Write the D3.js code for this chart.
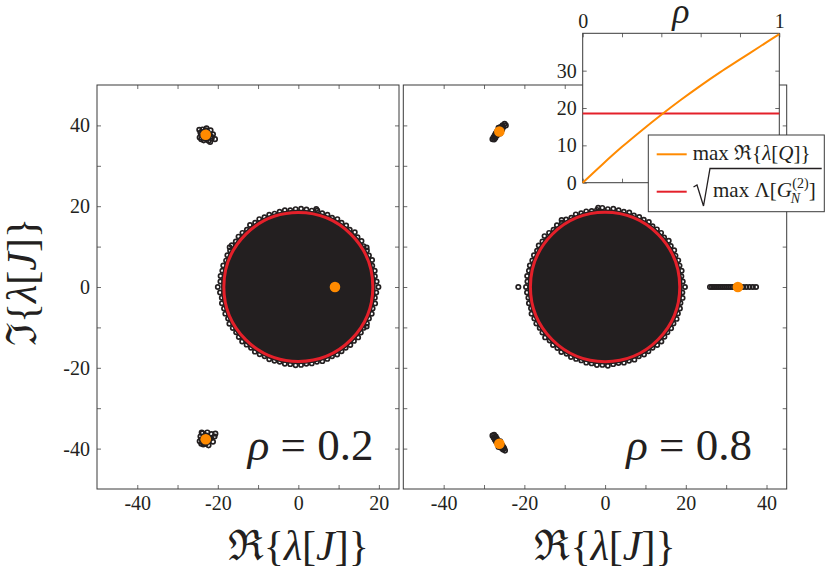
<!DOCTYPE html>
<html><head><meta charset="utf-8">
<script src="https://cdn.jsdelivr.net/npm/d3@7"></script>
<style>
body{margin:0;background:#fff;}
svg text{font-family:'Liberation Serif','DejaVu Serif',serif;fill:#231f20;}
</style></head>
<body><svg id="c" width="830" height="572"></svg>
<script>
// ---------------- DATA ----------------
const yDomain = [-50, 50];
const leftXDomain = [-50, 25];
const rightXDomain = [-50, 45];
const leftXTicks = [-40, -30, -20, -10, 0, 10, 20];
const leftXLabels = [-40, -20, 0, 20];
const rightXTicks = [-40, -30, -20, -10, 0, 10, 20, 30, 40];
const rightXLabels = [-40, -20, 0, 20, 40];
const yTicks = [-40, -30, -20, -10, 0, 10, 20, 30, 40];
const yLabels = [-40, -20, 0, 20, 40];

const rhoValues = [0.2, 0.8];
const bulkRadius = [19.2, 19.2];          // radius of dense eigenvalue bulk
const circleRadius = 18.5;                // sqrt(max Λ[G_N^(2)])
// rim eigenvalues (angle in degrees, modulus)
const leftRim = [[0,19.9],[4,19.5],[8,19.2],[12,19.4],[16,19.1],[20,19.5],[24,19.2],[28,19.3],[32,19.1],[36,19.4],[40,19.2],[44,19.5],[48,19.1],[52,19.3],[56,19.2],[60,19.4],[64,19.1],[68,19.3],[72,19.2],[76,19.5],[80,19.2],[84,19.3],[88,19.4],[92,19.3],[96,19.1],[100,19.3],[104,19.2],[108,19.1],[112,19.3],[116,19.2],[120,19.4],[124,19.2],[128,19.5],[132,19.1],[136,19.3],[140,19.4],[144,19.2],[148,19.5],[152,19.2],[156,19.3],[160,19.1],[164,19.4],[168,19.3],[172,19.5],[176,19.4],[180,20.0],[184,19.5],[188,19.2],[192,19.4],[196,19.2],[200,19.3],[204,19.1],[208,19.4],[212,19.2],[216,19.1],[220,19.3],[224,19.4],[228,19.2],[232,19.1],[236,19.3],[240,19.2],[244,19.1],[248,19.3],[252,19.2],[256,19.1],[260,19.3],[264,19.2],[268,19.4],[272,19.3],[276,19.1],[280,19.2],[284,19.1],[288,19.3],[292,19.2],[296,19.1],[300,19.3],[304,19.2],[308,19.1],[312,19.3],[316,19.2],[320,19.4],[324,19.2],[328,19.1],[332,19.3],[336,19.2],[340,19.4],[344,19.2],[348,19.5],[352,19.2],[356,19.4],[77,19.8],[30,19.6],[150,19.7],[330,19.6]];
const rightRim = [[0,19.8],[4,19.3],[8,19.1],[12,19.4],[16,19.2],[20,19.3],[24,19.1],[28,19.4],[32,19.2],[36,19.5],[40,19.1],[44,19.3],[48,19.2],[52,19.1],[56,19.4],[60,19.2],[64,19.3],[68,19.1],[72,19.4],[76,19.2],[80,19.3],[84,19.5],[88,19.3],[92,19.6],[96,19.2],[100,19.1],[104,19.3],[108,19.2],[112,19.4],[116,19.1],[120,19.3],[124,19.2],[128,19.4],[132,19.1],[136,19.3],[140,19.6],[144,19.2],[148,19.4],[152,19.1],[156,19.3],[160,19.2],[164,19.4],[168,19.3],[172,19.5],[176,19.3],[180,19.6],[184,19.4],[188,19.2],[192,19.3],[196,19.1],[200,19.4],[204,19.2],[208,19.3],[212,19.1],[216,19.2],[220,19.4],[224,19.1],[228,19.3],[232,19.2],[236,19.4],[240,19.1],[244,19.3],[248,19.2],[252,19.1],[256,19.3],[260,19.2],[264,19.4],[268,19.3],[272,19.5],[276,19.2],[280,19.1],[284,19.3],[288,19.2],[292,19.4],[296,19.1],[300,19.3],[304,19.2],[308,19.1],[312,19.3],[316,19.4],[320,19.2],[324,19.1],[328,19.3],[332,19.2],[336,19.4],[340,19.2],[344,19.3],[348,19.1],[352,19.4],[356,19.2],[123,19.8],[95,19.7]];
// isolated eigenvalues [Re, Im]
const leftOutliers = [[-24.3,38.2],[-23.8,39.0],[-22.8,39.3],[-21.8,38.8],[-21.2,37.8],[-21.5,36.8],[-22.3,36.2],[-23.5,36.3],[-24.5,37.0],[-20.7,36.6],[-21.9,35.9],[-24.6,38.9],[-23.0,37.7],
  [-23.5,37.2],[-22.5,37.2],[-22.5,38.3],[-23.5,38.4],[-24.0,37.7],[-22.0,37.6],[-23.0,36.7],[-23.0,38.8],[-21.7,37.3],[-24.1,36.6],
  [-24.3,-37.0],[-23.8,-36.2],[-22.6,-36.0],[-21.6,-36.4],[-20.8,-37.0],[-21.2,-38.3],[-22.3,-39.2],[-23.6,-39.0],[-24.5,-38.2],[-20.6,-36.3],[-24.0,-36.0],[-23.0,-37.7],
  [-23.5,-37.2],[-22.5,-37.2],[-22.5,-38.3],[-23.5,-38.4],[-24.0,-37.7],[-22.0,-37.6],[-23.0,-36.7],[-23.0,-38.8],[-21.7,-37.3],[-24.1,-38.8]];
const rightOutliers = [[-27.9,36.6],[-27.6,37.1],[-27.3,37.6],[-27.0,38.1],[-26.7,38.6],[-26.3,39.1],[-25.9,39.6],[-25.4,40.0],[-24.9,40.4],[-27.2,36.9],[-26.0,38.0],[-25.5,39.0],[-26.8,37.5],[-24.6,40.0],[-26.2,38.5],
  [-27.5,36.5],[-26.6,37.8],[-25.8,38.9],[-27.1,37.9],[-26.4,39.4],[-25.2,39.6],
  [-27.9,-36.8],[-27.6,-37.3],[-27.3,-37.8],[-27.0,-38.3],[-26.6,-38.8],[-26.2,-39.3],[-25.8,-39.8],[-25.3,-40.2],[-24.8,-40.5],[-27.1,-37.0],[-26.0,-38.2],[-25.5,-39.2],[-26.8,-37.6],[-25.0,-40.0],[-26.2,-38.8],
  [-27.5,-36.6],[-26.6,-38.0],[-25.8,-39.0],[-27.1,-38.0],[-26.4,-39.6],[-25.2,-39.6],
  [-21.5,0],
  [26.0,0],[26.5,0],[27.0,0],[27.5,0],[28.0,0],[28.5,0],[29.0,0],[29.5,0],[30.0,0],[30.5,0],[31.0,0],[31.5,0],[32.0,0],[32.6,0],[33.4,0],[34.2,0],[35.0,0],[35.8,0],[36.6,0],[37.4,0]];
// max Re λ[Q] (orange markers)
const leftQ = [[9.1,0],[-23.0,37.7],[-23.0,-37.7]];
const rightQ = [[32.9,0],[-26.2,38.5],[-26.2,-38.8]];

// inset: max Re λ[Q] vs ρ
const insetRho = [0, 0.1, 0.2, 0.3, 0.4, 0.5, 0.6, 0.7, 0.8, 0.9, 1.0];
const insetMaxReQ = [0, 4.9, 9.6, 14.0, 18.2, 22.2, 26.0, 29.6, 33.0, 36.4, 39.8];
const insetYTicks = [0, 10, 20, 30];
const insetXTicks = [0, 0.2, 0.4, 0.6, 0.8, 1];
const insetXLabels = [0, 1];

// ---------------- STYLE ----------------
const DARK = '#231f20', RED = '#e4202a', ORANGE = '#ff8a00', FRAME = '#3a3a3a', TICK = '#6b6b6b';
const FONT = "'Liberation Serif','DejaVu Serif',serif";

const svg = d3.select('#c');

function richText(g, x, y, segs, size, anchor) {
  const t = g.append('text').attr('x', x).attr('y', y).style('font-size', size + 'px').style('font-family', FONT);
  segs.forEach(s => {
    const sp = t.append('tspan').text(s.t);
    if (s.i) sp.style('font-style', 'italic');
  });
  const w = t.node().getComputedTextLength();
  if (anchor === 'middle') t.attr('x', x - w / 2);
  if (anchor === 'end') t.attr('x', x - w);
  return t;
}

function styleAxis(a) {
  a.select('.domain').remove();
  a.selectAll('line').attr('stroke', TICK);
  a.selectAll('text').style('font-family', FONT).style('font-size', '20px').attr('fill', DARK);
}

function panel(cfg) {
  const g = svg.append('g');
  const x = d3.scaleLinear().domain(cfg.xDomain).range([cfg.x0, cfg.x1]);
  const y = d3.scaleLinear().domain(yDomain).range([cfg.y1, cfg.y0]);
  const fmtX = d => cfg.xLabels.includes(d) ? d : '';
  const fmtY = d => (cfg.yLabels && cfg.yLabels.includes(d)) ? d : '';

  styleAxis(g.append('g').attr('transform', `translate(0,${cfg.y1})`)
    .call(d3.axisBottom(x).tickValues(cfg.xTicks).tickSize(-4).tickPadding(7).tickFormat(fmtX)));
  styleAxis(g.append('g').attr('transform', `translate(0,${cfg.y0})`)
    .call(d3.axisTop(x).tickValues(cfg.xTicks).tickSize(-4).tickFormat('')));
  styleAxis(g.append('g').attr('transform', `translate(${cfg.x0},0)`)
    .call(d3.axisLeft(y).tickValues(yTicks).tickSize(-4).tickPadding(7).tickFormat(fmtY)));
  styleAxis(g.append('g').attr('transform', `translate(${cfg.x1},0)`)
    .call(d3.axisRight(y).tickValues(yTicks).tickSize(-4).tickFormat('')));
  g.append('rect').attr('x', cfg.x0).attr('y', cfg.y0).attr('width', cfg.x1 - cfg.x0).attr('height', cfg.y1 - cfg.y0)
    .attr('fill', 'none').attr('stroke', FRAME).attr('stroke-width', 1);

  const px = x(1) - x(0);
  g.append('circle').attr('cx', x(0)).attr('cy', y(0)).attr('r', cfg.bulk * px).attr('fill', DARK);
  g.selectAll('.rim').data(cfg.rim).join('circle')
    .attr('cx', d => x(d[1] * Math.cos(d[0] * Math.PI / 180)))
    .attr('cy', d => y(d[1] * Math.sin(d[0] * Math.PI / 180)))
    .attr('r', 2.1).attr('fill', 'none').attr('stroke', DARK).attr('stroke-width', 1.7);
  g.selectAll('.out').data(cfg.out).join('circle')
    .attr('cx', d => x(d[0])).attr('cy', d => y(d[1]))
    .attr('r', 2.2).attr('fill', 'none').attr('stroke', DARK).attr('stroke-width', 1.7);
  g.append('circle').attr('cx', x(0)).attr('cy', y(0)).attr('r', circleRadius * px)
    .attr('fill', 'none').attr('stroke', RED).attr('stroke-width', 3);
  g.selectAll('.q').data(cfg.q).join('circle')
    .attr('cx', d => x(d[0])).attr('cy', d => y(d[1])).attr('r', 5.3).attr('fill', ORANGE);
  richText(g, cfg.labelEnd, 460, [{t: 'ρ', i: true}, {t: ' = ' + cfg.rho}], 45, 'end');
  richText(g, x(0), 560, [{t: 'ℜ{'}, {t: 'λ', i: true}, {t: '['}, {t: 'J', i: true}, {t: ']}'}], 42, 'middle');
  return {x, y};
}

const L = panel({x0: 97, x1: 399, y0: 85, y1: 489, xDomain: leftXDomain, xTicks: leftXTicks, xLabels: leftXLabels, yLabels: yLabels,
  bulk: bulkRadius[0], rim: leftRim, out: leftOutliers, q: leftQ, rho: rhoValues[0], labelEnd: 373.5});
const R = panel({x0: 403.3, x1: 786.7, y0: 85, y1: 489, xDomain: rightXDomain, xTicks: rightXTicks, xLabels: rightXLabels, yLabels: null,
  bulk: bulkRadius[1], rim: rightRim, out: rightOutliers, q: rightQ, rho: rhoValues[1], labelEnd: 752});

// y-axis label
{
  const g = svg.append('g').attr('transform', `translate(36,${L.y(0) - 5}) rotate(-90)`);
  richText(g, 0, 0, [{t: 'ℑ{'}, {t: 'λ', i: true}, {t: '['}, {t: 'J', i: true}, {t: ']}'}], 42, 'middle');
}

// ---------------- INSET ----------------
{
  const ix0 = 582.7, ix1 = 779.3, iy0 = 33.3, iy1 = 182.7;
  const g = svg.append('g');
  const x = d3.scaleLinear().domain([0, 1]).range([ix0, ix1]);
  const y = d3.scaleLinear().domain([0, 40]).range([iy1, iy0]);
  g.append('rect').attr('x', ix0).attr('y', iy0).attr('width', ix1 - ix0).attr('height', iy1 - iy0).attr('fill', '#fff');
  styleAxis(g.append('g').attr('transform', `translate(0,${iy0})`)
    .call(d3.axisTop(x).tickValues(insetXTicks).tickSize(-4).tickPadding(5).tickFormat(d => insetXLabels.includes(d) ? d : '')));
  styleAxis(g.append('g').attr('transform', `translate(0,${iy1})`)
    .call(d3.axisBottom(x).tickValues(insetXTicks).tickSize(-4).tickFormat('')));
  styleAxis(g.append('g').attr('transform', `translate(${ix0},0)`)
    .call(d3.axisLeft(y).tickValues(insetYTicks).tickSize(-4).tickPadding(6)));
  styleAxis(g.append('g').attr('transform', `translate(${ix1},0)`)
    .call(d3.axisRight(y).tickValues(insetYTicks).tickSize(-4).tickFormat('')));
  g.append('rect').attr('x', ix0).attr('y', iy0).attr('width', ix1 - ix0).attr('height', iy1 - iy0)
    .attr('fill', 'none').attr('stroke', FRAME).attr('stroke-width', 1);
  g.append('line').attr('x1', x(0)).attr('x2', x(1)).attr('y1', y(circleRadius)).attr('y2', y(circleRadius))
    .attr('stroke', RED).attr('stroke-width', 2);
  g.append('path').datum(insetRho.map((r, i) => [r, insetMaxReQ[i]]))
    .attr('d', d3.line().x(d => x(d[0])).y(d => y(d[1])).curve(d3.curveMonotoneX))
    .attr('fill', 'none').attr('stroke', ORANGE).attr('stroke-width', 2);
  richText(g, (ix0 + ix1) / 2, 23, [{t: 'ρ', i: true}], 36, 'middle');

  // legend
  const lg = svg.append('g');
  lg.append('rect').attr('x', 648.3).attr('y', 135).attr('width', 176).attr('height', 76.7)
    .attr('fill', '#fff').attr('stroke', FRAME).attr('stroke-width', 1);
  lg.append('line').attr('x1', 656.7).attr('x2', 686.7).attr('y1', 154.3).attr('y2', 154.3).attr('stroke', ORANGE).attr('stroke-width', 2);
  lg.append('line').attr('x1', 656.7).attr('x2', 686.7).attr('y1', 191.7).attr('y2', 191.7).attr('stroke', RED).attr('stroke-width', 2);
  richText(lg, 692.7, 160, [{t: 'max ℜ{'}, {t: 'λ', i: true}, {t: '['}, {t: 'Q', i: true}, {t: ']}'}], 21);
  lg.append('path').attr('d', 'M693.5,187 L697,185 L703.5,206 L710,168.5 L821.7,168.5')
    .attr('fill', 'none').attr('stroke', DARK).attr('stroke-width', 1.3);
  const t2 = richText(lg, 713, 197, [{t: 'max Λ['}, {t: 'G', i: true}], 21);
  const xe = 713 + t2.node().getComputedTextLength();
  lg.append('text').attr('x', xe + 0.5).attr('y', 188).style('font-size', '14px').style('font-family', FONT).text('(2)');
  lg.append('text').attr('x', xe - 1).attr('y', 203).style('font-size', '14px').style('font-family', FONT).style('font-style', 'italic').text('N');
  lg.append('text').attr('x', xe + 17).attr('y', 197).style('font-size', '21px').style('font-family', FONT).text(']');
}
</script></body></html>
